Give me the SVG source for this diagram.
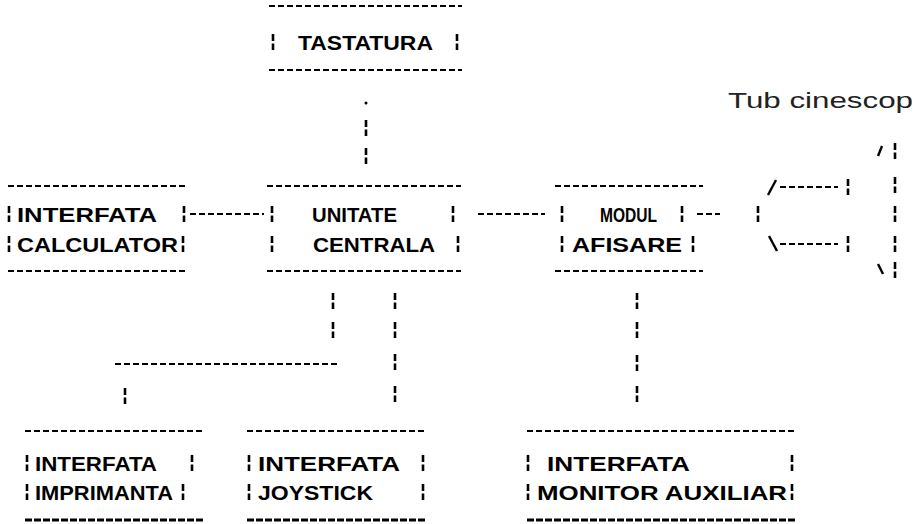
<svg xmlns="http://www.w3.org/2000/svg" xmlns:xlink="http://www.w3.org/1999/xlink" width="919" height="524" viewBox="0 0 919 524">
<style>
.d{stroke:#000;stroke-width:2.2;stroke-dasharray:6 3;fill:none}
.dd{stroke:#000;stroke-width:3.2;stroke-dasharray:7 2;fill:none}
.s{stroke:#000;stroke-width:2.4;fill:none}
.t{font-family:"Liberation Sans",Arial,sans-serif;font-weight:bold;font-size:21px;fill:#000}
.lbl{font-family:"Liberation Sans",Arial,sans-serif;font-size:22px;fill:#222}
</style>
<defs>
<line id="bar" x1="0" y1="-8" x2="0" y2="8" stroke="#000" stroke-width="2.6" stroke-dasharray="7 2.5"/>
</defs>
<rect width="919" height="524" fill="#fff"/>

<g id="tastatura">
<line class="d" x1="269" y1="6" x2="462" y2="6"/>
<line class="d" x1="269" y1="70" x2="462" y2="70"/>
<use xlink:href="#bar" x="273" y="42"/><use xlink:href="#bar" x="457" y="42"/>
<text class="t" x="298" y="50" textLength="135" lengthAdjust="spacingAndGlyphs">TASTATURA</text>
</g>

<g id="interfata-calculator">
<line class="d" x1="8" y1="186" x2="185" y2="186"/>
<line class="d" x1="8" y1="271" x2="185" y2="271"/>
<use xlink:href="#bar" x="9" y="214"/><use xlink:href="#bar" x="184" y="214"/>
<use xlink:href="#bar" x="9" y="244"/><use xlink:href="#bar" x="183" y="244"/>
<text class="t" x="17" y="221.5" textLength="140" lengthAdjust="spacingAndGlyphs">INTERFATA</text>
<text class="t" x="17" y="251.5" textLength="161" lengthAdjust="spacingAndGlyphs">CALCULATOR</text>
</g>

<g id="unitate-centrala">
<line class="d" x1="267" y1="186" x2="461" y2="186"/>
<line class="d" x1="267" y1="271" x2="461" y2="271"/>
<use xlink:href="#bar" x="272" y="214"/><use xlink:href="#bar" x="453" y="214"/>
<use xlink:href="#bar" x="272" y="244"/><use xlink:href="#bar" x="458" y="244"/>
<text class="t" x="312" y="221.5" textLength="85" lengthAdjust="spacingAndGlyphs">UNITATE</text>
<text class="t" x="313" y="251.5" textLength="122" lengthAdjust="spacingAndGlyphs">CENTRALA</text>
</g>

<g id="modul-afisare">
<line class="d" x1="555" y1="186" x2="703" y2="186"/>
<line class="d" x1="555" y1="271" x2="703" y2="271"/>
<use xlink:href="#bar" x="562" y="214"/><use xlink:href="#bar" x="682" y="214"/>
<use xlink:href="#bar" x="562" y="244"/><use xlink:href="#bar" x="693" y="244"/>
<text class="t" x="600" y="221.5" textLength="57" lengthAdjust="spacingAndGlyphs">MODUL</text>
<text class="t" x="572" y="251.5" textLength="110" lengthAdjust="spacingAndGlyphs">AFISARE</text>
</g>

<g id="tub-cinescop">
<text class="lbl" x="728" y="108" textLength="185" lengthAdjust="spacingAndGlyphs">Tub cinescop</text>
<line class="s" x1="768" y1="195" x2="776" y2="180"/>
<line class="d" x1="780" y1="187" x2="838" y2="187"/>
<use xlink:href="#bar" x="848" y="187"/>
<use xlink:href="#bar" x="758" y="214"/>
<line class="s" x1="769" y1="236" x2="777" y2="251"/>
<line class="d" x1="780" y1="244" x2="838" y2="244"/>
<use xlink:href="#bar" x="848" y="244"/>
<line class="s" x1="878" y1="156" x2="882" y2="146"/>
<use xlink:href="#bar" x="895" y="151"/>
<use xlink:href="#bar" x="895" y="185"/>
<use xlink:href="#bar" x="895" y="214"/>
<use xlink:href="#bar" x="895" y="244"/>
<line class="s" x1="878" y1="264" x2="883" y2="274"/>
<use xlink:href="#bar" x="895" y="270"/>
</g>

<g id="interfata-imprimanta">
<line class="d" x1="25" y1="431" x2="203" y2="431"/>
<line class="dd" x1="25" y1="520" x2="203" y2="520"/>
<use xlink:href="#bar" x="27" y="463"/><use xlink:href="#bar" x="192" y="463"/>
<use xlink:href="#bar" x="27" y="492"/><use xlink:href="#bar" x="183" y="492"/>
<text class="t" x="35" y="470.5" textLength="122" lengthAdjust="spacingAndGlyphs">INTERFATA</text>
<text class="t" x="35" y="499.5" textLength="138" lengthAdjust="spacingAndGlyphs">IMPRIMANTA</text>
</g>

<g id="interfata-joystick">
<line class="d" x1="247" y1="431" x2="425" y2="431"/>
<line class="dd" x1="247" y1="520" x2="425" y2="520"/>
<use xlink:href="#bar" x="249" y="463"/><use xlink:href="#bar" x="423" y="463"/>
<use xlink:href="#bar" x="249" y="492"/><use xlink:href="#bar" x="423" y="492"/>
<text class="t" x="258" y="470.5" textLength="142" lengthAdjust="spacingAndGlyphs">INTERFATA</text>
<text class="t" x="258" y="499.5" textLength="115" lengthAdjust="spacingAndGlyphs">JOYSTICK</text>
</g>

<g id="interfata-monitor">
<line class="d" x1="527" y1="431" x2="795" y2="431"/>
<line class="dd" x1="527" y1="520" x2="795" y2="520"/>
<use xlink:href="#bar" x="528" y="463"/><use xlink:href="#bar" x="792" y="463"/>
<use xlink:href="#bar" x="528" y="492"/><use xlink:href="#bar" x="792" y="492"/>
<text class="t" x="547" y="470.5" textLength="143" lengthAdjust="spacingAndGlyphs">INTERFATA</text>
<text class="t" x="537" y="499.5" textLength="250" lengthAdjust="spacingAndGlyphs">MONITOR AUXILIAR</text>
</g>

<g id="connectors">
<circle cx="366" cy="103" r="1.5" fill="#000"/>
<use xlink:href="#bar" x="366" y="128"/>
<use xlink:href="#bar" x="366" y="156"/>
<line class="d" x1="190" y1="214" x2="264" y2="214"/>
<line class="d" x1="478" y1="214" x2="545" y2="214"/>
<line class="d" x1="697" y1="214" x2="720" y2="214"/>
<use xlink:href="#bar" x="333" y="301"/>
<use xlink:href="#bar" x="333" y="330"/>
<line class="d" x1="115" y1="364" x2="338" y2="364"/>
<use xlink:href="#bar" x="125" y="396"/>
<use xlink:href="#bar" x="395" y="301"/>
<use xlink:href="#bar" x="395" y="330"/>
<use xlink:href="#bar" x="395" y="362"/>
<use xlink:href="#bar" x="395" y="394"/>
<use xlink:href="#bar" x="637" y="301"/>
<use xlink:href="#bar" x="637" y="330"/>
<use xlink:href="#bar" x="637" y="363"/>
<use xlink:href="#bar" x="637" y="394"/>
</g>
</svg>
